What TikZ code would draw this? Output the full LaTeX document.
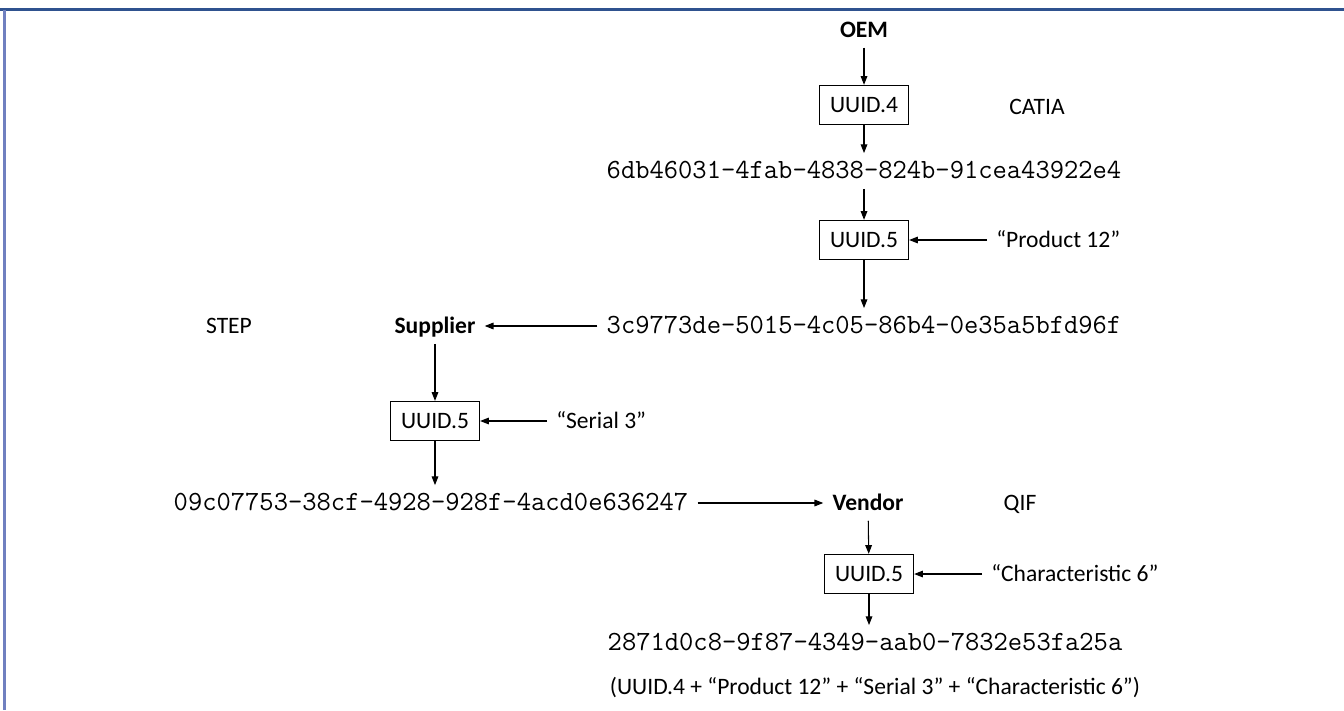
\documentclass[tikz,border=0pt]{standalone}
\usepackage{fontspec}
\setmainfont{Carlito}
\usetikzlibrary{arrows.meta}
\definecolor{frameblue}{RGB}{47,82,143}
\definecolor{framelight}{RGB}{112,128,192}
\tikzset{
    party/.style = {
        font = \fontsize{13.4}{16}\selectfont\bfseries,
        text height = 0.9em,
        text depth = 0.06em,
        inner sep = 5pt,
        },
    tool/.style = {
        font = \fontsize{13.4}{16}\selectfont,
        text height = 0.9em,
        text depth = 0.06em,
        inner sep = 5pt,
        },
    hash/.style = {
        font = \fontsize{15.8}{18}\selectfont\ttfamily,
        text height = 0.93em,
        text depth = 0.05em,
        inner sep = 5pt,
        },
    uuid box/.style = {
        draw,
        line width = 0.75pt,
        minimum width = 1.78cm,
        minimum height = 0.78cm,
        inner sep = 0pt,
        font = \fontsize{13.4}{16}\selectfont,
        },
    input/.style = {
        anchor = west,
        font = \fontsize{13.4}{16}\selectfont,
        text height = 0.9em,
        text depth = 0.06em,
        inner sep = 5pt,
        },
    frame top/.style = {
        draw = frameblue,
        line width = 1.3pt,
        },
    frame side/.style = {
        draw = framelight,
        line width = 1.3pt,
        },
}

\begin{document}
\begin{tikzpicture}[x=0.02cm, y=-0.02cm, ->, >={Triangle[length=5pt,width=3.8pt]}, line width=0.6pt]
            \useasboundingbox (0,0) rectangle (1344,710);
            \draw[frame top, -] (0,9.5) -- (1344,9.5);
            \draw[frame side, -] (4.5,9.5) -- (4.5,710);

            % OEM
            \node[party] (oem) at (864,30) {OEM};
            \node[uuid box] (uuidA) at (864,105) {UUID.4};
            \node[tool] (catia) at (1037,107) {CATIA};
            \node[hash] (hashA) at (864,171) {6db46031-4fab-4838-824b-91cea43922e4};
            \node[uuid box] (uuidB) at (864,240) {UUID.5};
            \node[input] (product) at (987,240) {“Product 12”};
            \node[hash] (hashB) at (864,326) {3c9773de-5015-4c05-86b4-0e35a5bfd96f};

            % supplier
            \node[party] (supplier) at (435,326) {Supplier};
            \node[tool] (step) at (229,326) {STEP};
            \node[uuid box] (uuidC) at (435,421) {UUID.5};
            \node[input] (serial) at (547,421) {“Serial 3”};
            \node[hash] (hashC) at (431,503) {09c07753-38cf-4928-928f-4acd0e636247};

            % vendor
            \node[party] (vendor) at (868,503) {Vendor};
            \node[tool] (qif) at (1020,503) {QIF};
            \node[uuid box] (uuidD) at (869,574) {UUID.5};
            \node[input] (charac) at (982,574) {“Characteristic 6”};
            \node[hash] (hashD) at (865,643) {2871d0c8-9f87-4349-aab0-7832e53fa25a};
            \node[tool] (sum) at (875,687) {(UUID.4 + “Product 12” + “Serial 3” + “Characteristic 6”)};

            \path (oem) edge (uuidA);
            \path (uuidA) edge (hashA);
            \path (hashA) edge (uuidB);
            \path (product) edge (uuidB);
            \path (uuidB) edge (hashB);
            \path (hashB) edge (supplier);
            \path (supplier) edge (uuidC);
            \path (serial) edge (uuidC);
            \path (uuidC) edge (hashC.north -| uuidC);
            \path (hashC.east) edge (hashC.east -| vendor.west);
            \path (vendor) edge (uuidD);
            \path (charac) edge (uuidD);
            \path (uuidD) edge (hashD.north -| uuidD);
        \end{tikzpicture}
\end{document}
